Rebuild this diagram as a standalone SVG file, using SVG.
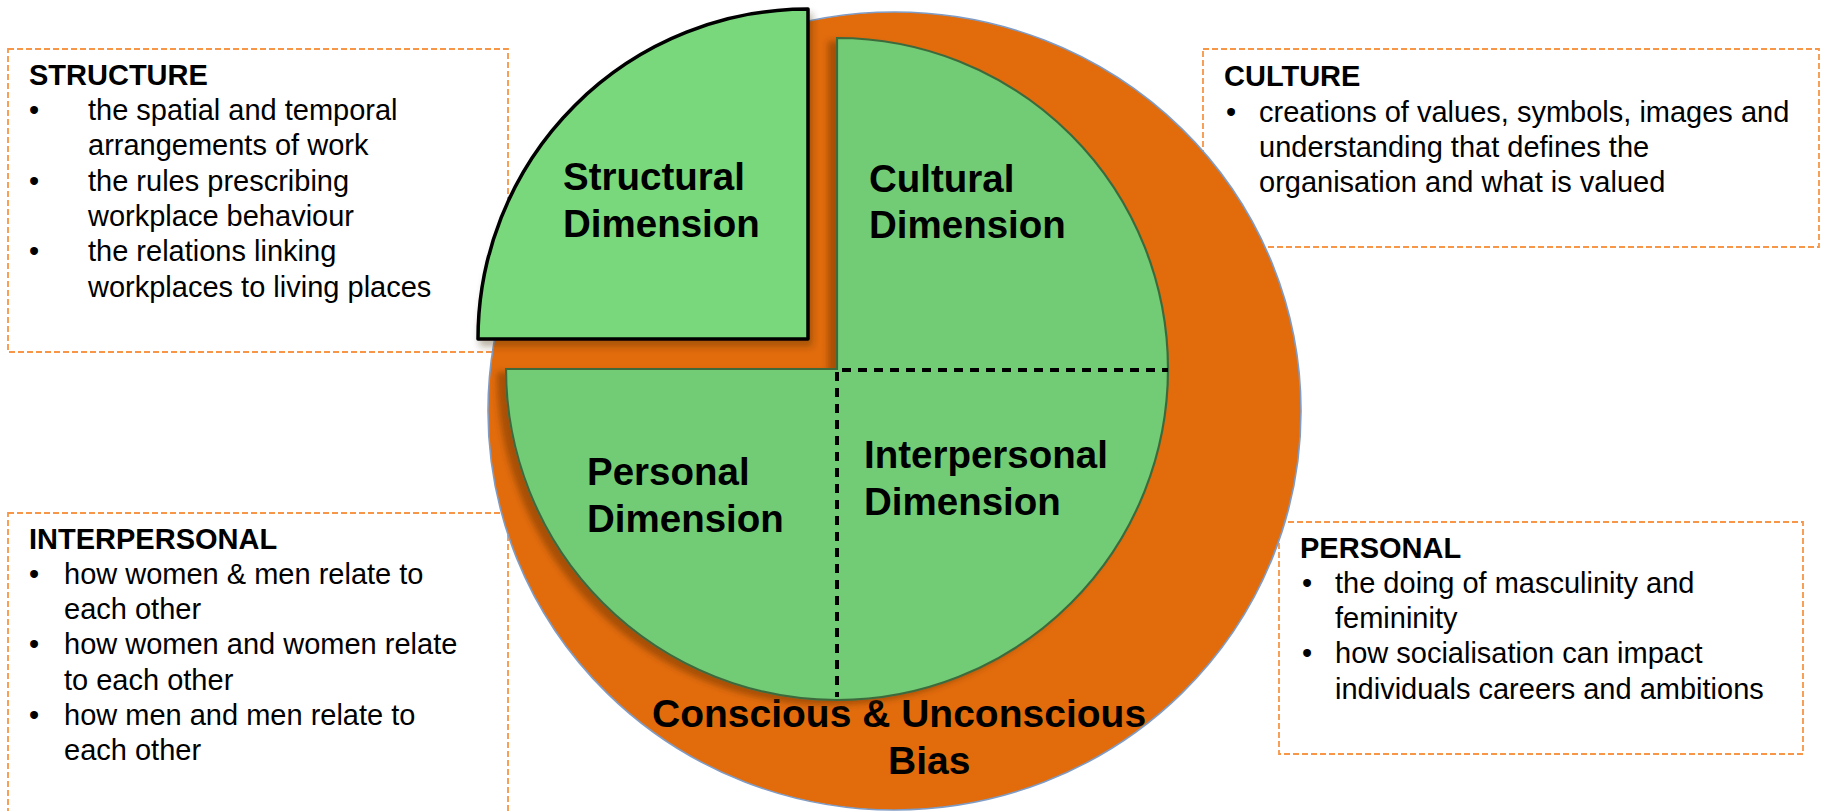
<svg xmlns="http://www.w3.org/2000/svg" width="1822" height="811" viewBox="0 0 1822 811">
  <defs>
    <style>
      .box { fill: none; stroke: #F79646; stroke-width: 1.8; stroke-dasharray: 6 3; }
      .txt { font-family: "Liberation Sans", Arial, sans-serif; font-size: 29px; fill: #000; }
      .head { font-weight: bold; }
      .dim { font-family: "Liberation Sans", Arial, sans-serif; font-size: 38.5px; font-weight: bold; fill: #000; }
      .bias { font-family: "Liberation Sans", Arial, sans-serif; font-size: 39px; font-weight: bold; fill: #000; }
      .divider { fill: none; stroke: #000; stroke-width: 4; stroke-dasharray: 9 7; }
    </style>
    <filter id="shadowMain" x="-10%" y="-10%" width="120%" height="120%">
      <feDropShadow dx="-8" dy="4" stdDeviation="3" flood-color="#6b2f00" flood-opacity="0.5"/>
    </filter>
    <filter id="shadowQuad" x="-10%" y="-10%" width="125%" height="125%">
      <feDropShadow dx="3" dy="6" stdDeviation="3.5" flood-color="#3a2a10" flood-opacity="0.35"/>
    </filter>
    <filter id="soft" x="-5%" y="-5%" width="110%" height="110%">
      <feGaussianBlur stdDeviation="0.6"/>
    </filter>
  </defs>

  <rect width="1822" height="811" fill="#fff"/>

  <!-- Description boxes -->
  <g id="box-structure">
    <rect class="box" x="8" y="49" width="500" height="303"/>
    <text class="txt head" x="29" y="85">STRUCTURE</text>
    <text class="txt" x="29" y="120">•</text>
    <text class="txt" x="88" y="120">the spatial and temporal</text>
    <text class="txt" x="88" y="155.3">arrangements of work</text>
    <text class="txt" x="29" y="190.6">•</text>
    <text class="txt" x="88" y="190.6">the rules prescribing</text>
    <text class="txt" x="88" y="225.9">workplace behaviour</text>
    <text class="txt" x="29" y="261.2">•</text>
    <text class="txt" x="88" y="261.2">the relations linking</text>
    <text class="txt" x="88" y="296.5">workplaces to living places</text>
  </g>

  <g id="box-culture">
    <rect class="box" x="1203" y="49" width="616" height="198"/>
    <text class="txt head" x="1224" y="86">CULTURE</text>
    <text class="txt" x="1226" y="121.5">•</text>
    <text class="txt" x="1259" y="121.5">creations of values, symbols, images and</text>
    <text class="txt" x="1259" y="156.8">understanding that defines the</text>
    <text class="txt" x="1259" y="192">organisation and what is valued</text>
  </g>

  <g id="box-interpersonal">
    <rect class="box" x="8" y="513" width="500" height="330"/>
    <text class="txt head" x="29" y="549">INTERPERSONAL</text>
    <text class="txt" x="29" y="583.5">•</text>
    <text class="txt" x="64" y="583.5">how women &amp; men relate to</text>
    <text class="txt" x="64" y="619">each other</text>
    <text class="txt" x="29" y="654.3">•</text>
    <text class="txt" x="64" y="654.3">how women and women relate</text>
    <text class="txt" x="64" y="689.6">to each other</text>
    <text class="txt" x="29" y="725">•</text>
    <text class="txt" x="64" y="725">how men and men relate to</text>
    <text class="txt" x="64" y="760.3">each other</text>
  </g>

  <g id="box-personal">
    <rect class="box" x="1279" y="522" width="524" height="232"/>
    <text class="txt head" x="1300" y="558">PERSONAL</text>
    <text class="txt" x="1302" y="592.7">•</text>
    <text class="txt" x="1335" y="592.7">the doing of masculinity and</text>
    <text class="txt" x="1335" y="628">femininity</text>
    <text class="txt" x="1302" y="663.3">•</text>
    <text class="txt" x="1335" y="663.3">how socialisation can impact</text>
    <text class="txt" x="1335" y="698.6">individuals careers and ambitions</text>
  </g>

  <!-- Outer ring: bias -->
  <g id="bias">
    <ellipse cx="894.5" cy="411" rx="406.5" ry="399" fill="#E26C0C" stroke="#7F9CC6" stroke-width="1.6"/>
    <text class="bias" x="652" y="727">Conscious &amp; Unconscious</text>
    <text class="bias" x="888" y="774">Bias</text>
  </g>

  <!-- Cultural, interpersonal and personal quadrants -->
  <g id="core" filter="url(#shadowMain)">
    <path d="M837,38 A331,331 0 1 1 506,369 L837,369 Z" fill="#72CC75" stroke="#3E6B3E" stroke-width="2.2"/>
  </g>

  <!-- Exploded structural quadrant -->
  <g id="structural" filter="url(#shadowQuad)">
    <path d="M808,339 L478,339 A330,330 0 0 1 808,9 Z" fill="#79D87B" stroke="#000" stroke-width="3.5" stroke-linejoin="round"/>
  </g>

  <!-- Dividers between the joined quadrants -->
  <g id="dividers">
    <line class="divider" x1="842" y1="370" x2="1168" y2="370"/>
    <line class="divider" x1="837" y1="372" x2="837" y2="697"/>
  </g>

  <!-- Quadrant labels -->
  <g id="labels">
    <text class="dim" x="563" y="190">Structural</text>
    <text class="dim" x="563" y="237">Dimension</text>
    <text class="dim" x="869" y="192">Cultural</text>
    <text class="dim" x="869" y="238">Dimension</text>
    <text class="dim" x="587" y="485">Personal</text>
    <text class="dim" x="587" y="532">Dimension</text>
    <text class="dim" x="864" y="468">Interpersonal</text>
    <text class="dim" x="864" y="515">Dimension</text>
  </g>
</svg>
